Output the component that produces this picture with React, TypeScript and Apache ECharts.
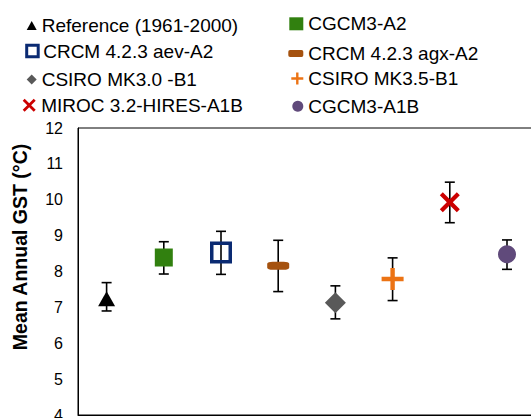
import React, { useEffect, useRef } from "react";
import * as echarts from "echarts";

const names = [
  "Reference (1961-2000)",
  "CGCM3-A2",
  "CRCM 4.2.3 aev-A2",
  "CRCM 4.2.3 agx-A2",
  "CSIRO MK3.0 -B1",
  "CSIRO MK3.5-B1",
  "MIROC 3.2-HIRES-A1B",
  "CGCM3-A1B",
];
const means = [7.24, 8.39, 8.53, 8.16, 7.13, 7.79, 9.93, 8.48];
const lows = [6.9, 7.93, 7.92, 7.44, 6.68, 7.19, 9.36, 8.06];
const highs = [7.69, 8.83, 9.12, 8.87, 7.6, 8.38, 10.49, 8.88];
const yTicks = [4, 5, 6, 7, 8, 9, 10, 11, 12];

const PLUS = "path://M2,0H3V2H5V3H3V5H2V3H0V2H2Z";
const CROSS =
  "path://M0,1.5L1.5,0L5,3.5L8.5,0L10,1.5L6.5,5L10,8.5L8.5,10L5,6.5L1.5,10L0,8.5L3.5,5Z";

const styles: any[] = [
  { symbol: "triangle", symbolSize: [17, 15], itemStyle: { color: "#000000", opacity: 1 } },
  { symbol: "rect", symbolSize: 18, itemStyle: { color: "#31800f", opacity: 1 } },
  {
    symbol: "rect",
    symbolSize: 18.5,
    itemStyle: { color: "rgba(255,255,255,0)", borderColor: "#0a2a72", borderWidth: 3.5, opacity: 1 },
  },
  { symbol: "roundRect", symbolSize: [22, 8], itemStyle: { color: "#a5520f", opacity: 1 } },
  { symbol: "diamond", symbolSize: [21, 21], itemStyle: { color: "#595959", opacity: 1 } },
  { symbol: PLUS, symbolSize: 22, itemStyle: { color: "#ec7314", opacity: 1 } },
  { symbol: CROSS, symbolSize: 20, itemStyle: { color: "#cc0000", opacity: 1 } },
  { symbol: "circle", symbolSize: 18, itemStyle: { color: "#604a7b", opacity: 1 } },
];

// legend item layout: [left, top, itemWidth, itemHeight]
const legendLayout: number[][] = [
  [26.7, 16, 10, 9],
  [289.3, 14.3, 14, 13],
  [25.2, 41.5, 11.5, 11.5],
  [288.3, 44, 15, 7],
  [26.7, 70, 10, 10],
  [291.3, 69, 12, 12],
  [22.7, 95.7, 14, 13],
  [292.3, 96.7, 11, 11],
];

export default function App() {
  const ref = useRef<HTMLDivElement>(null);
  useEffect(() => {
    if (!ref.current) return;
    const chart = echarts.init(ref.current, null, { renderer: "svg" });
    const font = "'Liberation Sans', Arial, sans-serif";
    const errData = names.map((_, i) => [i, lows[i], highs[i]]);
    const option: any = {
      animation: false,
      backgroundColor: "#ffffff",
      textStyle: { fontFamily: font },
      legend: names.map((n, i) => ({
        data: [n],
        left: legendLayout[i][0],
        top: legendLayout[i][1],
        itemWidth: legendLayout[i][2],
        itemHeight: legendLayout[i][3],
        padding: 0,
        selectedMode: false,
        itemStyle: i === 2 ? { borderWidth: 3, borderColor: "#0a2a72", color: "#ffffff" } : {},
        textStyle: { fontSize: 19, color: "#000", fontFamily: font },
      })),
      grid: {
        left: 78,
        top: 128,
        right: -4.6,
        bottom: 3,
        show: true,
        borderColor: "#000",
        borderWidth: 1,
        outerBoundsMode: "none",
        containLabel: false,
      },
      xAxis: {
        type: "category",
        data: names,
        axisLabel: { show: false },
        axisTick: { show: false },
        axisLine: { lineStyle: { color: "#000", width: 1 } },
        splitLine: { show: false },
      },
      yAxis: {
        type: "value",
        min: yTicks[0],
        max: yTicks[yTicks.length - 1],
        interval: 1,
        axisLabel: { fontSize: 16, color: "#000", margin: 15, fontFamily: font },
        axisTick: { show: false },
        axisLine: { show: true, lineStyle: { color: "#000", width: 1 } },
        splitLine: { show: false },
      },
      graphic: [
        {
          type: "text",
          x: 20,
          y: 247,
          rotation: Math.PI / 2,
          style: {
            text: "Mean Annual GST (°C)",
            font: `bold 19.5px ${font}`,
            fill: "#000",
            textAlign: "center",
            textVerticalAlign: "middle",
          },
        },
      ],
      series: [
        {
          type: "custom",
          name: "errors",
          z: 1,
          data: errData,
          renderItem: (params: any, api: any) => {
            const x = api.value(0);
            const pHi = api.coord([x, api.value(2)]);
            const pLo = api.coord([x, api.value(1)]);
            const w = 5;
            const st = { stroke: "#000", lineWidth: 1.6 };
            return {
              type: "group",
              children: [
                { type: "line", shape: { x1: pHi[0], y1: pHi[1], x2: pLo[0], y2: pLo[1] }, style: st },
                { type: "line", shape: { x1: pHi[0] - w, y1: pHi[1], x2: pHi[0] + w, y2: pHi[1] }, style: st },
                { type: "line", shape: { x1: pLo[0] - w, y1: pLo[1], x2: pLo[0] + w, y2: pLo[1] }, style: st },
              ],
            };
          },
        },
        ...names.map((n, i) => ({
          type: "scatter",
          name: n,
          z: 3,
          data: [[i, means[i]]],
          symbol: styles[i].symbol,
          symbolSize: styles[i].symbolSize,
          itemStyle: styles[i].itemStyle,
        })),
      ],
    };
    chart.setOption(option);
    return () => chart.dispose();
  }, []);
  return (
    <div
      ref={ref}
      style={{ position: "absolute", left: 0, top: 0, width: 531, height: 418 }}
    />
  );
}
